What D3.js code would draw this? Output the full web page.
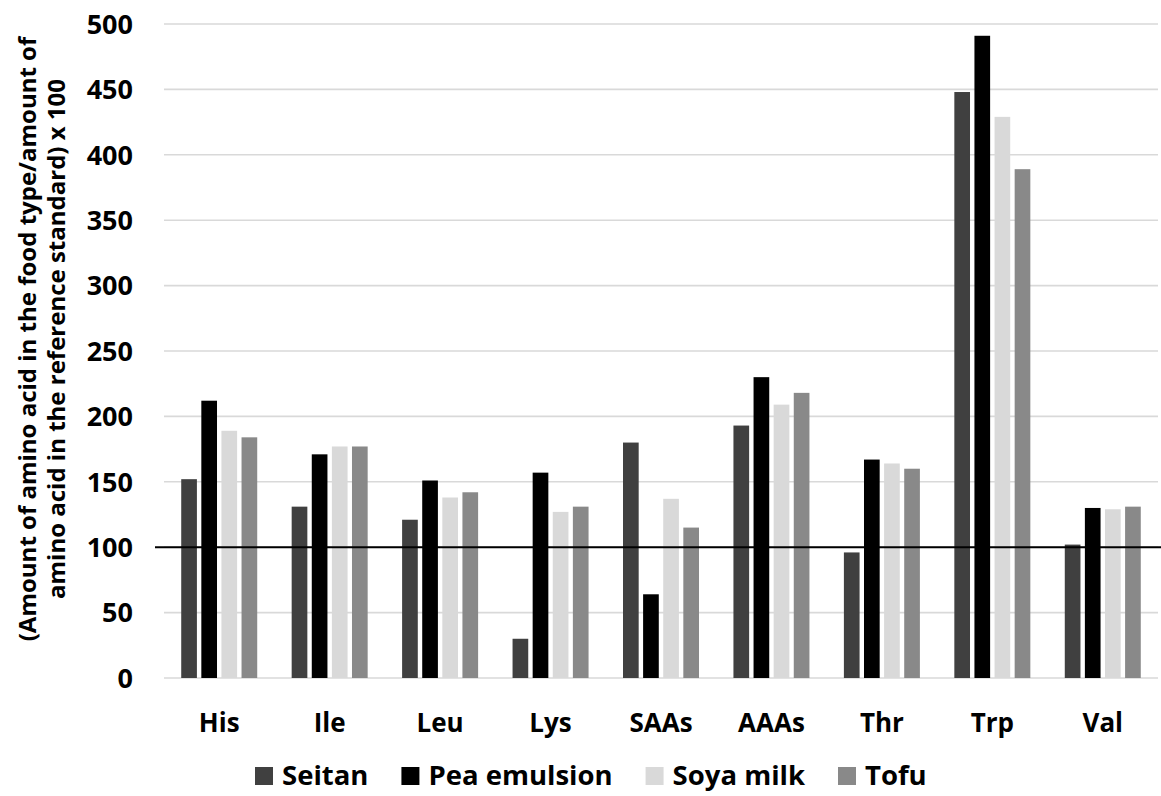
<!DOCTYPE html>
<html>
<head>
<meta charset="utf-8">
<script src="https://cdn.jsdelivr.net/npm/d3@7"></script>
<style>
  body { margin: 0; background: #fff; }
  svg { display: block; font-family: "Open Sans", sans-serif; }
</style>
</head>
<body>
<div id="chart"></div>
<script>
const categories = ["His", "Ile", "Leu", "Lys", "SAAs", "AAAs", "Thr", "Trp", "Val"];
const seriesNames = ["Seitan", "Pea emulsion", "Soya milk", "Tofu"];
const seriesColors = ["#404040", "#000000", "#d9d9d9", "#898989"];

const seitan      = [152, 131, 121, 30, 180, 193, 96, 448, 102];
const peaEmulsion = [212, 171, 151, 157, 64, 230, 167, 491, 130];
const soyaMilk    = [189, 177, 138, 127, 137, 209, 164, 429, 129];
const tofu        = [184, 177, 142, 131, 115, 218, 160, 389, 131];

const yTicks = [0, 50, 100, 150, 200, 250, 300, 350, 400, 450, 500];
const referenceLevel = 100;
const yTitleLines = [
  "(Amount of amino acid in the food type/amount of",
  "amino acid in the reference standard) x 100"
];

const seriesValues = [seitan, peaEmulsion, soyaMilk, tofu];
const rows = categories.map((c, i) => ({
  category: c,
  values: seriesNames.map((s, j) => ({ series: s, value: seriesValues[j][i] }))
}));

const width = 1161, height = 796;
const plot = { left: 164, right: 1158, top: 24, bottom: 678 };

const svg = d3.select("#chart").append("svg")
  .attr("width", width)
  .attr("height", height);

const y = d3.scaleLinear()
  .domain([0, 500])
  .range([plot.bottom, plot.top]);

const x0 = d3.scaleBand()
  .domain(categories)
  .range([plot.left, plot.right])
  .padding(0);

const groupWidth = 76;
const x1 = d3.scaleBand()
  .domain(seriesNames)
  .range([(x0.bandwidth() - groupWidth) / 2, (x0.bandwidth() + groupWidth) / 2])
  .paddingInner(0.22);

const color = d3.scaleOrdinal().domain(seriesNames).range(seriesColors);

// gridlines
svg.append("g").selectAll("line")
  .data(yTicks)
  .join("line")
  .attr("x1", plot.left)
  .attr("x2", plot.right)
  .attr("y1", d => y(d))
  .attr("y2", d => y(d))
  .attr("stroke", "#d9d9d9")
  .attr("stroke-width", 1.6);

// tick labels
svg.append("g").selectAll("text")
  .data(yTicks)
  .join("text")
  .attr("x", 133)
  .attr("y", d => y(d))
  .attr("dy", "0.36em")
  .attr("text-anchor", "end")
  .attr("font-size", 27)
  .attr("font-weight", "bold")
  .attr("fill", "#000")
  .text(d => d);

// bars
const groups = svg.append("g").selectAll("g")
  .data(rows)
  .join("g")
  .attr("transform", d => `translate(${x0(d.category)},0)`);

groups.selectAll("rect")
  .data(d => d.values)
  .join("rect")
  .attr("x", d => x1(d.series))
  .attr("width", x1.bandwidth())
  .attr("y", d => y(d.value))
  .attr("height", d => y(0) - y(d.value))
  .attr("fill", d => color(d.series));

// reference line at 100
svg.append("line")
  .attr("x1", 155)
  .attr("x2", width)
  .attr("y1", y(referenceLevel))
  .attr("y2", y(referenceLevel))
  .attr("stroke", "#000")
  .attr("stroke-width", 2);

// category labels
svg.append("g").selectAll("text")
  .data(categories)
  .join("text")
  .attr("x", d => x0(d) + x0.bandwidth() / 2)
  .attr("y", 732)
  .attr("text-anchor", "middle")
  .attr("font-size", 26)
  .attr("font-weight", "bold")
  .attr("fill", "#000")
  .text(d => d);

// y title
const yTitle = svg.append("text")
  .attr("transform", "translate(28,339) rotate(-90)")
  .attr("text-anchor", "middle")
  .attr("font-size", 24)
  .attr("font-weight", "bold")
  .attr("fill", "#000");
yTitle.selectAll("tspan")
  .data(yTitleLines)
  .join("tspan")
  .attr("x", 0)
  .attr("y", (d, i) => i * 29)
  .attr("dy", "0.35em")
  .text(d => d);

// legend
const legend = svg.append("g").attr("transform", "translate(255,0)");
let lx = 0;
seriesNames.forEach(s => {
  const item = legend.append("g").attr("transform", `translate(${lx},0)`);
  item.append("rect")
    .attr("x", 0)
    .attr("y", 767)
    .attr("width", 18)
    .attr("height", 18)
    .attr("fill", color(s));
  const t = item.append("text")
    .attr("x", 27)
    .attr("y", 785)
    .attr("font-size", 27.5)
    .attr("font-weight", "bold")
    .attr("fill", "#000")
    .text(s);
  lx += 27 + t.node().getComputedTextLength() + 33;
});
</script>
</body>
</html>
